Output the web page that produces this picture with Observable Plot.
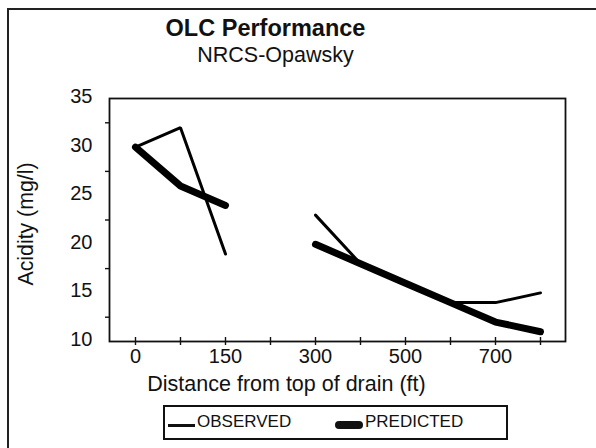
<!DOCTYPE html>
<html>
<head>
<meta charset="utf-8">
<script src="https://cdn.jsdelivr.net/npm/d3@7"></script>
<script src="https://cdn.jsdelivr.net/npm/@observablehq/plot@0.6"></script>
<style>
  html, body { margin: 0; padding: 0; background: #fff; }
  #wrap { position: relative; width: 596px; height: 448px; overflow: hidden; font-family: "Liberation Sans", Arial, sans-serif; color: #111; }
  #outer { position: absolute; left: 7px; top: 8px; width: 700px; height: 600px; border-left: 2px solid #222; border-top: 2px solid #222; }
  #legend { position: absolute; left: 163px; top: 405px; width: 341px; height: 31px; border: 2px solid #111; font-size: 17px; }
  .item { position: absolute; top: 5px; display: flex; align-items: center; gap: 2px; }
  .sw { display: inline-block; background: #111; }
</style>
</head>
<body>
<div id="wrap">
  <div id="outer"></div>
  <div id="chart"></div>
  <div id="legend"></div>
</div>
<script>
const categories = ["0", "75", "150", "225", "300", "400", "500", "600", "700", "800"];
const tickLabels = ["0", "150", "300", "500", "700"];
const observed = [30, 32, 19, null, 23, 18, 16, 14, 14, 15];
const predicted = [30, 26, 24, null, 20, 18, 16, 14, 12, 11];
const yLabelTicks = [10, 15, 20, 25, 30, 35];
const yMinorTicks = [12.5, 17.5, 22.5, 27.5, 32.5];
const seriesNames = ["OBSERVED", "PREDICTED"];
const titleText = "OLC Performance";
const subtitleText = "NRCS-Opawsky";
const xTitle = "Distance from top of drain (ft)";
const yTitle = "Acidity (mg/l)";

const obsData = categories.map((c, i) => ({x: c, y: observed[i]}));
const predData = categories.map((c, i) => ({x: c, y: predicted[i]}));

const chart = Plot.plot({
  width: 596,
  height: 448,
  marginLeft: 109,
  marginRight: 31,
  marginTop: 98,
  marginBottom: 107,
  style: {fontFamily: "'Liberation Sans', Arial, sans-serif", color: "#111", background: "transparent", overflow: "visible"},
  x: {type: "point", domain: categories, padding: 0.5},
  y: {domain: [10, 35]},
  marks: [
    Plot.frame({stroke: "#111", strokeWidth: 1.8}),
    Plot.axisX({ticks: categories, tickSize: 8, dy: -4, tickPadding: 3, fontSize: 20,
      tickFormat: d => tickLabels.includes(d) ? d : "", label: null, strokeWidth: 1.4}),
    Plot.axisY({ticks: yLabelTicks, tickSize: 0, tickPadding: 17, fontSize: 20, dy: -2, label: null}),
    Plot.axisY({ticks: yMinorTicks, tickSize: 4, tickFormat: () => "", label: null, strokeWidth: 1.4}),
    Plot.lineY(predData, {x: "x", y: "y", stroke: "#000", strokeWidth: 7, strokeLinecap: "round", strokeLinejoin: "round"}),
    Plot.lineY(obsData, {x: "x", y: "y", stroke: "#000", strokeWidth: 3, strokeLinejoin: "miter"}),
    Plot.text([titleText], {frameAnchor: "top", textAnchor: "middle", dx: -72, dy: -63, lineAnchor: "bottom", fontSize: 23.5, fontWeight: "bold", fill: "#111"}),
    Plot.text([subtitleText], {frameAnchor: "top", textAnchor: "middle", dx: -62, dy: -37, lineAnchor: "bottom", fontSize: 21.5, fill: "#111"}),
    Plot.text([xTitle], {frameAnchor: "bottom", textAnchor: "middle", dx: -51, dy: 49, lineAnchor: "bottom", fontSize: 21.5, fill: "#111"}),
    Plot.text([yTitle], {frameAnchor: "left", textAnchor: "middle", dx: -83, dy: 4, rotate: -90, lineAnchor: "middle", fontSize: 21.3, fill: "#111"})
  ]
});
chart.style.position = "absolute";
chart.style.left = "0px";
chart.style.top = "0px";
document.getElementById("chart").appendChild(chart);

const legend = document.getElementById("legend");
const items = [
  {name: seriesNames[0], left: 3, w: 27, h: 3, r: 0},
  {name: seriesNames[1], left: 170, w: 28, h: 8, r: 4}
];
for (const it of items) {
  const d = document.createElement("div");
  d.className = "item";
  d.style.left = it.left + "px";
  const sw = document.createElement("span");
  sw.className = "sw";
  sw.style.width = it.w + "px";
  sw.style.height = it.h + "px";
  sw.style.borderRadius = it.r + "px";
  sw.style.marginTop = "6px";
  const t = document.createElement("span");
  t.textContent = it.name;
  d.appendChild(sw);
  d.appendChild(t);
  legend.appendChild(d);
}
</script>
</body>
</html>
